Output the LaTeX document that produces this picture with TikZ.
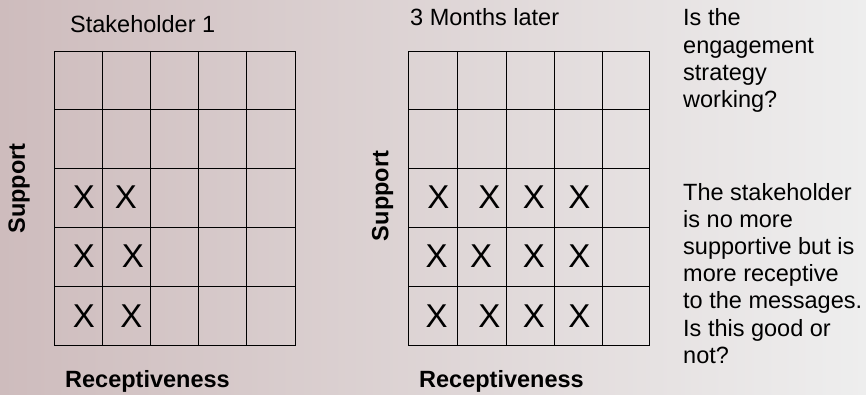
\documentclass[tikz,border=0pt]{standalone}
\usepackage{fontspec}
\setmainfont{Liberation Sans}
\definecolor{bgleft}{RGB}{206,188,189}
\definecolor{bgright}{RGB}{238,238,238}
\begin{document}
\begin{tikzpicture}[x=1pt,y=-1pt,
  lbl/.style={inner sep=0pt, font=\fontsize{23.5}{27.2}\selectfont},
  axislbl/.style={lbl, font=\fontsize{23.5}{27.2}\selectfont\bfseries},
  xmk/.style={inner sep=0pt, font=\fontsize{33}{33}\selectfont},
  gridline/.style={line width=0.9pt, black}]
\useasboundingbox (0,0) rectangle (866,395);
\shade[left color=bgleft, right color=bgright] (0,0) rectangle (866,395);

% first matrix
\draw[gridline] (54,51) rectangle (295,345);
\foreach \x in {102,150.5,198.5,246.5} \draw[gridline] (\x,51) -- (\x,345);
\foreach \y in {109.5,168,227,286} \draw[gridline] (54,\y) -- (295,\y);

% second matrix
\draw[gridline] (408,51) rectangle (649.5,345);
\foreach \x in {457.5,506.5,554,602} \draw[gridline] (\x,51) -- (\x,345);
\foreach \y in {109.5,168,227,286} \draw[gridline] (408,\y) -- (649.5,\y);

% titles
\node[lbl, anchor=base west] (t1) at (70,33) {Stakeholder 1};
\node[lbl, anchor=base west] (t2) at (410,26) {3 Months later};

% axis labels
\node[axislbl, anchor=base west] (r1) at (65,387) {Receptiveness};
\node[axislbl, anchor=base west] (r2) at (419,387) {Receptiveness};
\node[axislbl, rotate=90] (s1) at (19,188.5) {Support};
\node[axislbl, rotate=90] (s2) at (382.5,196) {Support};

% marks, first matrix
\node[xmk] (a1) at (84,197) {X};
\node[xmk] (a2) at (126,197) {X};
\node[xmk] (a3) at (84,256.5) {X};
\node[xmk] (a4) at (133,256.5) {X};
\node[xmk] (a5) at (84,316.5) {X};
\node[xmk] (a6) at (131.5,316.5) {X};

% marks, second matrix
\node[xmk] (b1) at (438.3,197) {X};
\node[xmk] (b2) at (489.3,197) {X};
\node[xmk] (b3) at (533.8,197) {X};
\node[xmk] (b4) at (579.3,197) {X};
\node[xmk] (b5) at (436.7,256.5) {X};
\node[xmk] (b6) at (481,256.5) {X};
\node[xmk] (b7) at (533.8,256.5) {X};
\node[xmk] (b8) at (579.3,256.5) {X};
\node[xmk] (b9) at (436.7,316.5) {X};
\node[xmk] (b10) at (489.3,316.5) {X};
\node[xmk] (b11) at (533.8,316.5) {X};
\node[xmk] (b12) at (579.3,316.5) {X};

% commentary (anchored at the baseline of the last line)
\node[lbl, align=left, anchor=base west] (q1) at (683,107.6) {Is the\\engagement\\strategy\\working?};
\node[lbl, align=left, anchor=base west] (q2) at (683,363.2) {The stakeholder\\is no more\\supportive but is\\more receptive\\to the messages.\\Is this good or\\not?};
\end{tikzpicture}
\end{document}
